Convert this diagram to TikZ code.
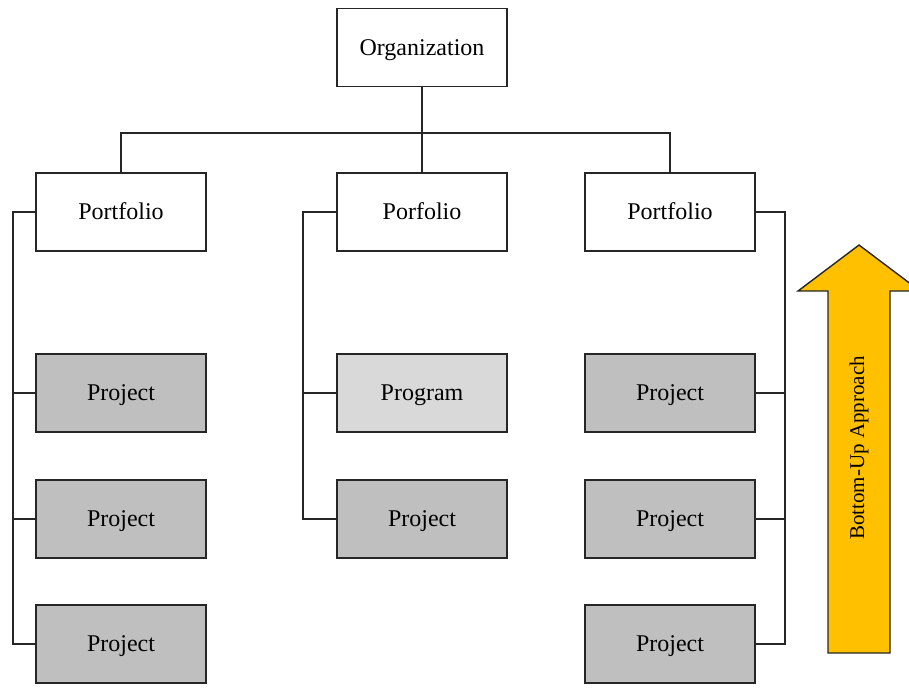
\documentclass[tikz,border=0pt]{standalone}
\usepackage{fontspec}
\setmainfont{Liberation Serif}
\definecolor{projgray}{HTML}{BFBFBF}
\definecolor{proggray}{HTML}{D9D9D9}
\definecolor{arrowgold}{HTML}{FFC000}
\begin{document}
\begin{tikzpicture}[x=0.5pt,y=-0.5pt,
  box/.style={draw=black!85, line width=0.7pt, minimum width=85pt, minimum height=39pt, inner sep=0pt, text height=7.9pt, text depth=0pt, font=\fontsize{12}{14}\selectfont, anchor=center},
  proj/.style={box, fill=projgray},
  prog/.style={box, fill=proggray},
  wire/.style={draw=black!85, line width=0.7pt}]
\useasboundingbox (0,0) rectangle (909,687);
% nodes
\node[box] (org) at (422,47.5) {Organization};
\node[box] (pf1) at (121,212) {Portfolio};
\node[box] (pf2) at (422,212) {Porfolio};
\node[box] (pf3) at (670,212) {Portfolio};
\node[proj] (l1) at (121,393) {Project};
\node[proj] (l2) at (121,519) {Project};
\node[proj] (l3) at (121,644) {Project};
\node[prog] (m1) at (422,393) {Program};
\node[proj] (m2) at (422,519) {Project};
\node[proj] (r1) at (670,393) {Project};
\node[proj] (r2) at (670,519) {Project};
\node[proj] (r3) at (670,644) {Project};
% rails
\coordinate (bus) at (0,133);
\coordinate (lrail) at (13,0);
\coordinate (mrail) at (303,0);
\coordinate (rrail) at (785,0);
% top tree
\draw[wire] (org.south) -- (org.south |- bus);
\draw[wire] (pf1.north) -- (pf1.north |- bus) -- (pf3.north |- bus) -- (pf3.north);
\draw[wire] (pf2.north) -- (pf2.north |- bus);
% left
\draw[wire] (pf1.west) -- (lrail |- pf1.west) -- (lrail |- l3.west) -- (l3.west);
\draw[wire] (l1.west) -- (lrail |- l1.west);
\draw[wire] (l2.west) -- (lrail |- l2.west);
% middle
\draw[wire] (pf2.west) -- (mrail |- pf2.west) -- (mrail |- m2.west) -- (m2.west);
\draw[wire] (m1.west) -- (mrail |- m1.west);
% right
\draw[wire] (pf3.east) -- (rrail |- pf3.east) -- (rrail |- r3.east) -- (r3.east);
\draw[wire] (r1.east) -- (rrail |- r1.east);
\draw[wire] (r2.east) -- (rrail |- r2.east);
% arrow
\draw[fill=arrowgold, draw=black!85, line width=0.7pt] (828,653) -- (828,291) -- (798,291) -- (859,245) -- (920,291) -- (890,291) -- (890,653) -- cycle;
\node[rotate=90, font=\fontsize{10.5}{12}\selectfont, inner sep=0pt] (lbl) at (859,448) {Bottom-Up Approach};
\end{tikzpicture}
\end{document}
